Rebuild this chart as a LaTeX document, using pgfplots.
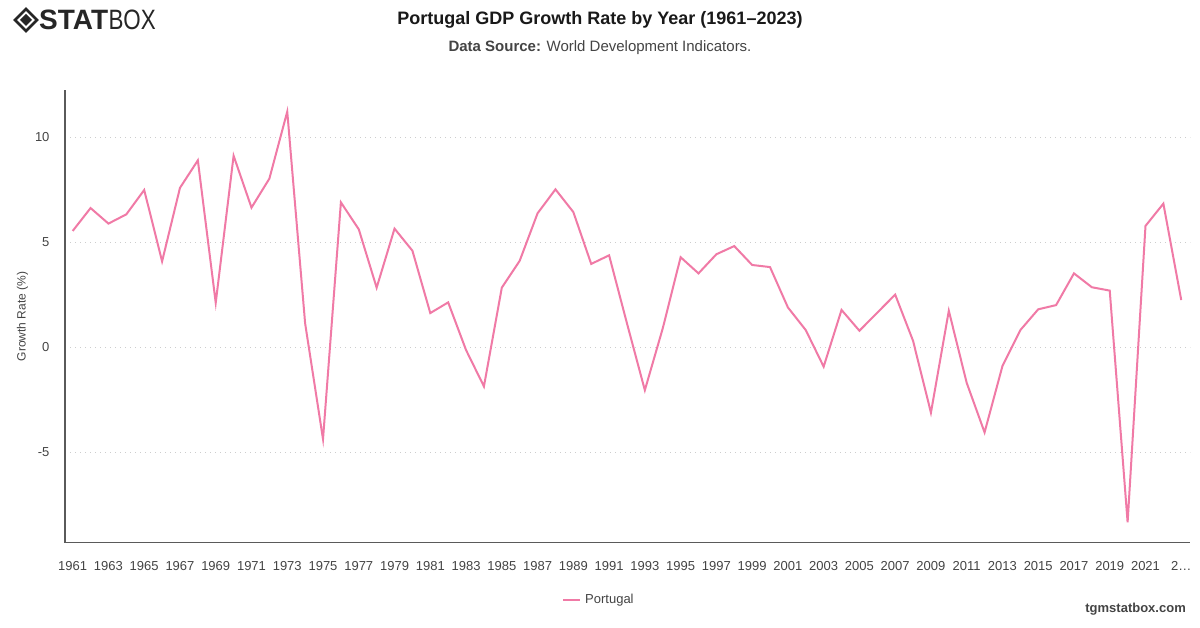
\documentclass[border=0pt]{standalone}
\usepackage{fontspec}
\setmainfont{Liberation Sans}
\usepackage{pgfplots}
\pgfplotsset{compat=1.18}
\definecolor{linepink}{RGB}{240,122,166}
\definecolor{txtgrey}{RGB}{68,68,68}
\definecolor{gridgrey}{RGB}{205,205,205}
\definecolor{axgrey}{RGB}{90,90,90}
\begin{document}
\begin{tikzpicture}
\path[fill=white] (0pt,0pt) rectangle (1200pt,628pt);
% logo
\draw[line width=2.6pt,black!85] (26pt,619pt) -- (37pt,608pt) -- (26pt,597pt) -- (15pt,608pt) -- cycle;
\fill[black!85] (26pt,614pt) -- (32pt,608pt) -- (26pt,602pt) -- (20pt,608pt) -- cycle;
\node[anchor=west,inner sep=0pt,font=\fontsize{28}{30}\selectfont\bfseries,black!85] (stat) at (39pt,608pt) {STAT};
\node[anchor=west,inner sep=0pt,font=\fontsize{28}{30}\selectfont,black!85,xscale=0.8] at (stat.east) {BOX};
% titles
\node[font=\fontsize{18}{20}\selectfont\bfseries,black!90] at (600pt,608pt) {Portugal GDP Growth Rate by Year (1961–2023)};
\node[font=\fontsize{15}{17}\selectfont,txtgrey] at (600pt,580pt) {\textbf{Data Source:} World Development Indicators.};
\begin{axis}[
  scale only axis,
  width=1125pt, height=452.7pt,
  at={(65pt,85.3pt)}, anchor=south west,
  xmin=1960.57, xmax=2023.49,
  ymin=-9.3, ymax=12.25,
  axis x line*=bottom, axis y line*=left,
  axis line style={axgrey,line width=1.3pt},
  xtick={1961,1963,1965,1967,1969,1971,1973,1975,1977,1979,1981,1983,1985,1987,1989,1991,1993,1995,1997,1999,2001,2003,2005,2007,2009,2011,2013,2015,2017,2019,2021,2023},
  xticklabels={1961,1963,1965,1967,1969,1971,1973,1975,1977,1979,1981,1983,1985,1987,1989,1991,1993,1995,1997,1999,2001,2003,2005,2007,2009,2011,2013,2015,2017,2019,2021,2\ldots},
  ytick={-5,0,5,10},
  major tick length=0pt,
  tick label style={font=\fontsize{13}{15}\selectfont,txtgrey},
  /pgf/number format/assume math mode=true,
  xticklabel style={yshift=-15pt},
  yticklabel style={xshift=-12pt},
  ymajorgrids,
  grid style={gridgrey,line width=0.8pt,dash pattern=on 1pt off 4pt},
  ylabel={Growth Rate (\%)},
  ylabel style={font=\fontsize{12}{14}\selectfont,txtgrey},
  clip=false,
]
\addplot[linepink,line width=2pt] coordinates {
(1961,5.54)(1962,6.63)(1963,5.89)(1964,6.33)(1965,7.49)(1966,4.09)(1967,7.59)(1968,8.90)(1969,2.12)(1970,9.12)
(1971,6.65)(1972,8.03)(1973,11.22)(1974,1.14)(1975,-4.37)(1976,6.90)(1977,5.62)(1978,2.84)(1979,5.65)(1980,4.60)
(1981,1.63)(1982,2.14)(1983,-0.13)(1984,-1.86)(1985,2.84)(1986,4.12)(1987,6.38)(1988,7.52)(1989,6.44)(1990,3.97)
(1991,4.38)(1992,1.14)(1993,-2.04)(1994,0.90)(1995,4.29)(1996,3.52)(1997,4.43)(1998,4.82)(1999,3.92)(2000,3.82)
(2001,1.90)(2002,0.82)(2003,-0.92)(2004,1.78)(2005,0.79)(2006,1.65)(2007,2.51)(2008,0.31)(2009,-3.11)(2010,1.74)
(2011,-1.69)(2012,-4.05)(2013,-0.89)(2014,0.82)(2015,1.81)(2016,2.01)(2017,3.52)(2018,2.86)(2019,2.70)(2020,-8.33)
(2021,5.78)(2022,6.84)(2023,2.25)
};
\end{axis}
% legend
\draw[linepink,line width=2pt] (563pt,28pt) -- (580pt,28pt);
\node[anchor=west,font=\fontsize{13}{15}\selectfont,txtgrey,inner sep=0pt] at (585pt,28pt) {Portugal};
% footer
\node[anchor=east,font=\fontsize{13}{15}\selectfont\bfseries,txtgrey,inner sep=0pt] at (1186pt,19pt) {tgmstatbox.com};
\end{tikzpicture}
\end{document}
